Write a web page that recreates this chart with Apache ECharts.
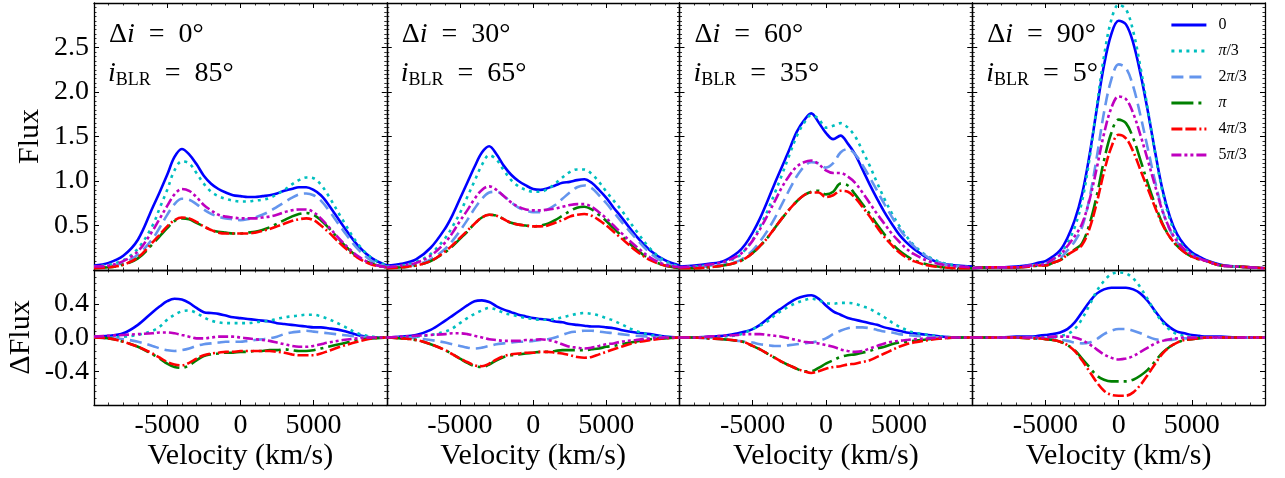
<!DOCTYPE html>
<html>
<head>
<meta charset="utf-8">
<script src="https://cdn.jsdelivr.net/npm/echarts@6/dist/echarts.min.js"></script>
<style>
html, body { margin: 0; padding: 0; background: #fff; }
#chart { width: 1285px; height: 478px; }
</style>
</head>
<body>
<div id="chart"></div>
<script>
// velocity grid (km/s), shared by every curve
var velocity = [-10000, -9000, -8000, -7000, -6000, -5500, -5000, -4500, -4000, -3500, -3000,
    -2500, -2000, -1500, -1000, -500, 0, 500, 1000, 1500, 2000, 2500, 3000, 3500, 4000,
    4500, 5000, 5500, 6000, 7000, 8000, 9000, 10000];

var phaseNames = ['0', 'π/3', '2π/3', 'π', '4π/3', '5π/3'];
var deltaI = [0, 30, 60, 90];
var iBLR = [85, 65, 35, 5];

// Flux, one row per phase (0, pi/3, 2pi/3, pi, 4pi/3, 5pi/3)
var fluxDi0 = [
    [0.05,0.08,0.16,0.34,0.70,0.88,1.07,1.27,1.36,1.30,1.19,1.06,0.97,0.91,0.87,0.84,0.83,0.82,0.82,0.83,0.84,0.86,0.89,0.91,0.93,0.93,0.90,0.84,0.74,0.50,0.28,0.13,0.05],
    [0.04,0.06,0.11,0.24,0.50,0.70,0.90,1.12,1.22,1.20,1.09,0.97,0.88,0.83,0.80,0.78,0.77,0.77,0.78,0.79,0.81,0.85,0.90,0.96,1.01,1.04,1.03,0.96,0.84,0.56,0.30,0.13,0.05],
    [0.03,0.04,0.08,0.17,0.35,0.48,0.62,0.74,0.80,0.79,0.74,0.68,0.63,0.60,0.58,0.57,0.56,0.57,0.59,0.62,0.66,0.71,0.76,0.81,0.85,0.86,0.84,0.78,0.68,0.45,0.24,0.10,0.04],
    [0.02,0.03,0.06,0.13,0.29,0.38,0.47,0.55,0.58,0.57,0.53,0.49,0.45,0.43,0.42,0.41,0.41,0.42,0.43,0.45,0.48,0.52,0.56,0.60,0.63,0.64,0.62,0.56,0.48,0.30,0.15,0.07,0.03],
    [0.02,0.03,0.06,0.14,0.31,0.40,0.49,0.56,0.59,0.58,0.54,0.49,0.45,0.42,0.41,0.41,0.41,0.41,0.42,0.44,0.46,0.49,0.52,0.55,0.57,0.58,0.56,0.50,0.43,0.27,0.14,0.06,0.03],
    [0.04,0.05,0.10,0.21,0.44,0.58,0.72,0.85,0.91,0.89,0.82,0.73,0.67,0.62,0.60,0.59,0.58,0.58,0.58,0.59,0.60,0.62,0.65,0.67,0.68,0.68,0.65,0.58,0.49,0.31,0.16,0.07,0.03]
];
var fluxDi30 = [
    [0.05,0.07,0.12,0.25,0.47,0.62,0.80,0.98,1.16,1.32,1.39,1.30,1.17,1.07,1.00,0.95,0.91,0.90,0.92,0.95,0.98,0.99,1.01,1.02,0.98,0.90,0.81,0.70,0.60,0.39,0.22,0.11,0.05],
    [0.04,0.05,0.09,0.18,0.36,0.49,0.64,0.82,1.00,1.18,1.29,1.24,1.12,1.01,0.94,0.90,0.88,0.88,0.91,0.97,1.04,1.10,1.13,1.13,1.08,0.99,0.88,0.78,0.68,0.45,0.24,0.10,0.04],
    [0.03,0.04,0.06,0.12,0.24,0.33,0.44,0.56,0.69,0.80,0.87,0.88,0.83,0.76,0.70,0.67,0.65,0.65,0.68,0.73,0.80,0.87,0.93,0.95,0.92,0.84,0.75,0.65,0.55,0.36,0.19,0.08,0.03],
    [0.02,0.03,0.05,0.10,0.20,0.27,0.35,0.43,0.52,0.59,0.62,0.61,0.57,0.53,0.51,0.50,0.49,0.50,0.52,0.56,0.61,0.66,0.70,0.71,0.68,0.62,0.55,0.47,0.39,0.24,0.12,0.05,0.02],
    [0.02,0.03,0.05,0.10,0.21,0.28,0.36,0.44,0.52,0.59,0.62,0.61,0.57,0.53,0.51,0.50,0.49,0.49,0.50,0.53,0.56,0.60,0.62,0.63,0.61,0.56,0.50,0.43,0.36,0.22,0.11,0.05,0.02],
    [0.03,0.05,0.08,0.16,0.31,0.42,0.55,0.67,0.80,0.90,0.94,0.90,0.83,0.76,0.71,0.68,0.67,0.67,0.68,0.69,0.71,0.73,0.74,0.74,0.71,0.65,0.58,0.50,0.42,0.27,0.14,0.06,0.03]
];
var fluxDi60 = [
    [0.04,0.05,0.07,0.10,0.20,0.29,0.42,0.58,0.77,0.97,1.16,1.35,1.55,1.68,1.76,1.66,1.54,1.47,1.51,1.42,1.30,1.13,0.96,0.80,0.65,0.52,0.40,0.31,0.24,0.13,0.07,0.05,0.04],
    [0.03,0.04,0.05,0.08,0.15,0.23,0.34,0.49,0.66,0.86,1.07,1.29,1.50,1.65,1.74,1.70,1.60,1.62,1.65,1.60,1.50,1.34,1.17,0.98,0.80,0.64,0.50,0.38,0.28,0.15,0.08,0.05,0.03],
    [0.02,0.03,0.04,0.06,0.10,0.15,0.22,0.32,0.44,0.58,0.74,0.90,1.05,1.16,1.21,1.20,1.15,1.20,1.32,1.36,1.30,1.18,1.04,0.89,0.74,0.60,0.47,0.36,0.27,0.14,0.07,0.04,0.02],
    [0.02,0.02,0.03,0.05,0.09,0.13,0.19,0.27,0.36,0.47,0.58,0.68,0.77,0.84,0.88,0.89,0.85,0.88,0.97,0.95,0.85,0.74,0.63,0.51,0.40,0.30,0.22,0.16,0.11,0.06,0.03,0.02,0.02],
    [0.02,0.02,0.03,0.05,0.09,0.13,0.19,0.27,0.36,0.47,0.58,0.68,0.77,0.84,0.87,0.87,0.82,0.84,0.89,0.88,0.81,0.71,0.60,0.48,0.37,0.28,0.20,0.14,0.10,0.05,0.03,0.02,0.02],
    [0.03,0.04,0.06,0.09,0.16,0.23,0.33,0.46,0.61,0.77,0.93,1.06,1.16,1.21,1.23,1.19,1.12,1.09,1.09,1.05,0.98,0.87,0.75,0.63,0.52,0.41,0.32,0.24,0.18,0.10,0.06,0.04,0.03]
];
var fluxDi90 = [
    [0.02,0.03,0.03,0.04,0.06,0.08,0.10,0.15,0.22,0.36,0.56,0.85,1.28,1.80,2.30,2.65,2.80,2.76,2.55,2.20,1.78,1.32,0.90,0.60,0.40,0.28,0.20,0.15,0.11,0.06,0.04,0.03,0.02],
    [0.02,0.03,0.03,0.03,0.05,0.06,0.07,0.12,0.18,0.30,0.48,0.77,1.24,1.83,2.40,2.81,2.98,2.93,2.68,2.27,1.80,1.31,0.88,0.57,0.37,0.25,0.18,0.13,0.10,0.05,0.04,0.03,0.02],
    [0.02,0.03,0.03,0.03,0.05,0.05,0.06,0.09,0.13,0.22,0.32,0.48,0.80,1.26,1.77,2.14,2.31,2.27,2.06,1.73,1.36,0.99,0.67,0.45,0.31,0.22,0.16,0.13,0.10,0.05,0.04,0.03,0.02],
    [0.02,0.03,0.03,0.03,0.04,0.05,0.05,0.08,0.11,0.17,0.23,0.30,0.51,0.83,1.23,1.54,1.69,1.65,1.48,1.23,0.97,0.73,0.52,0.37,0.27,0.20,0.15,0.12,0.10,0.05,0.04,0.03,0.02],
    [0.02,0.03,0.03,0.03,0.04,0.05,0.05,0.08,0.11,0.17,0.22,0.28,0.46,0.75,1.10,1.38,1.52,1.48,1.33,1.12,0.91,0.70,0.51,0.37,0.27,0.20,0.15,0.12,0.10,0.05,0.04,0.03,0.02],
    [0.02,0.03,0.03,0.03,0.05,0.06,0.07,0.12,0.17,0.27,0.38,0.52,0.78,1.14,1.53,1.82,1.95,1.92,1.76,1.51,1.23,0.94,0.66,0.46,0.32,0.23,0.17,0.13,0.10,0.05,0.04,0.03,0.02]
];

// Delta flux (flux minus the mean over phases)
var dFluxDi0 = [
    [0.01,0.02,0.05,0.15,0.30,0.37,0.43,0.46,0.45,0.41,0.35,0.30,0.29,0.28,0.26,0.24,0.23,0.22,0.21,0.20,0.19,0.17,0.16,0.15,0.14,0.13,0.12,0.12,0.11,0.08,0.03,0.00,0.00],
    [0,0,0.01,0.03,0.08,0.13,0.21,0.27,0.31,0.32,0.29,0.24,0.20,0.18,0.17,0.17,0.17,0.17,0.18,0.19,0.20,0.22,0.24,0.25,0.26,0.27,0.27,0.25,0.22,0.14,0.05,0.01,0],
    [0,-0.01,-0.02,-0.05,-0.10,-0.13,-0.15,-0.16,-0.15,-0.13,-0.10,-0.08,-0.07,-0.06,-0.05,-0.05,-0.05,-0.04,-0.03,-0.02,-0.01,0.01,0.04,0.06,0.07,0.08,0.07,0.06,0.05,0.03,0.01,0,0],
    [0,-0.01,-0.05,-0.11,-0.20,-0.25,-0.31,-0.35,-0.36,-0.33,-0.27,-0.22,-0.20,-0.19,-0.18,-0.18,-0.17,-0.17,-0.16,-0.16,-0.15,-0.15,-0.14,-0.15,-0.16,-0.16,-0.15,-0.13,-0.11,-0.07,-0.03,-0.01,0],
    [0,-0.01,-0.05,-0.11,-0.19,-0.24,-0.29,-0.32,-0.33,-0.30,-0.25,-0.21,-0.19,-0.18,-0.17,-0.17,-0.16,-0.16,-0.16,-0.16,-0.16,-0.17,-0.18,-0.20,-0.21,-0.21,-0.21,-0.19,-0.16,-0.10,-0.05,-0.01,0],
    [0.01,0.02,0.03,0.04,0.05,0.06,0.06,0.05,0.03,0.01,-0.01,-0.01,0,0.01,0.01,0.01,0,-0.01,-0.02,-0.03,-0.04,-0.06,-0.08,-0.10,-0.11,-0.11,-0.10,-0.08,-0.06,-0.03,-0.01,0,0]
];
var dFluxDi30 = [
    [0,0.01,0.03,0.09,0.20,0.26,0.32,0.38,0.43,0.44,0.42,0.37,0.33,0.30,0.27,0.25,0.23,0.22,0.21,0.19,0.18,0.16,0.15,0.14,0.13,0.13,0.12,0.11,0.09,0.06,0.04,0.01,0],
    [0,0,0.01,0.03,0.07,0.11,0.17,0.23,0.28,0.32,0.35,0.33,0.29,0.27,0.25,0.23,0.22,0.21,0.21,0.22,0.24,0.26,0.28,0.29,0.28,0.26,0.23,0.20,0.16,0.08,0.03,0.01,0],
    [0,0,-0.01,-0.03,-0.06,-0.08,-0.10,-0.12,-0.13,-0.12,-0.10,-0.08,-0.07,-0.06,-0.05,-0.05,-0.04,-0.03,-0.02,0,0.03,0.06,0.07,0.08,0.08,0.07,0.06,0.05,0.04,0.02,0.01,0,0],
    [0,-0.01,-0.03,-0.08,-0.15,-0.20,-0.25,-0.30,-0.34,-0.35,-0.32,-0.27,-0.23,-0.21,-0.20,-0.19,-0.18,-0.17,-0.17,-0.16,-0.15,-0.15,-0.15,-0.15,-0.14,-0.13,-0.11,-0.10,-0.08,-0.05,-0.02,-0.01,0],
    [0,-0.01,-0.03,-0.08,-0.15,-0.20,-0.25,-0.29,-0.33,-0.34,-0.31,-0.26,-0.22,-0.20,-0.19,-0.18,-0.18,-0.17,-0.17,-0.18,-0.19,-0.21,-0.23,-0.24,-0.23,-0.20,-0.17,-0.14,-0.11,-0.06,-0.03,-0.01,0],
    [0,0.01,0.02,0.03,0.04,0.05,0.05,0.04,0.02,0,-0.02,-0.03,-0.04,-0.04,-0.04,-0.03,-0.03,-0.02,-0.03,-0.05,-0.08,-0.11,-0.12,-0.13,-0.12,-0.10,-0.08,-0.07,-0.05,-0.03,-0.01,0,0]
];
var dFluxDi60 = [
    [0,0,0.01,0.02,0.05,0.07,0.10,0.15,0.22,0.29,0.35,0.41,0.46,0.49,0.50,0.46,0.38,0.31,0.27,0.23,0.21,0.19,0.17,0.15,0.12,0.10,0.08,0.06,0.05,0.03,0.01,0,0],
    [0,0,0,0.01,0.03,0.06,0.10,0.14,0.19,0.26,0.32,0.37,0.41,0.44,0.46,0.44,0.41,0.40,0.41,0.41,0.40,0.37,0.34,0.29,0.24,0.18,0.13,0.09,0.06,0.03,0.01,0,0],
    [0,0,-0.01,-0.02,-0.04,-0.05,-0.06,-0.08,-0.09,-0.10,-0.10,-0.09,-0.08,-0.07,-0.06,-0.04,-0.01,0.04,0.08,0.11,0.12,0.12,0.11,0.09,0.07,0.06,0.04,0.03,0.02,0.01,0,0,0],
    [0,0,-0.01,-0.02,-0.04,-0.06,-0.10,-0.14,-0.19,-0.24,-0.29,-0.33,-0.37,-0.40,-0.40,-0.36,-0.31,-0.27,-0.23,-0.21,-0.20,-0.18,-0.16,-0.13,-0.11,-0.08,-0.06,-0.05,-0.04,-0.02,-0.01,0,0],
    [0,0,-0.01,-0.02,-0.04,-0.06,-0.10,-0.14,-0.19,-0.24,-0.29,-0.33,-0.37,-0.40,-0.42,-0.40,-0.37,-0.35,-0.34,-0.32,-0.31,-0.29,-0.27,-0.23,-0.19,-0.15,-0.11,-0.08,-0.06,-0.03,-0.01,0,0],
    [0,0,0.01,0.02,0.03,0.04,0.04,0.04,0.03,0.02,0.01,-0.01,-0.03,-0.05,-0.06,-0.07,-0.09,-0.11,-0.14,-0.16,-0.17,-0.16,-0.13,-0.10,-0.07,-0.05,-0.04,-0.03,-0.02,-0.01,0,0,0]
];
var dFluxDi90 = [
    [0,0,0,0.01,0.01,0.02,0.03,0.04,0.06,0.10,0.18,0.30,0.42,0.52,0.57,0.59,0.59,0.59,0.57,0.52,0.43,0.31,0.20,0.12,0.07,0.05,0.03,0.02,0.01,0.01,0,0,0],
    [0,0,0,0,0,0,0,0.01,0.02,0.04,0.10,0.22,0.38,0.55,0.67,0.75,0.77,0.76,0.70,0.59,0.45,0.30,0.18,0.09,0.04,0.02,0.01,0,0,0,0,0,0],
    [0,0,0,0,0,-0.01,-0.01,-0.02,-0.03,-0.04,-0.06,-0.07,-0.06,-0.02,0.04,0.08,0.10,0.10,0.08,0.05,0.01,-0.02,-0.03,-0.03,-0.02,-0.01,-0.01,0,0,0,0,0,0],
    [0,0,0,0,-0.01,-0.01,-0.02,-0.03,-0.05,-0.09,-0.15,-0.25,-0.35,-0.45,-0.50,-0.52,-0.52,-0.52,-0.50,-0.45,-0.38,-0.28,-0.18,-0.11,-0.06,-0.03,-0.02,-0.01,0,0,0,0,0],
    [0,0,0,0,-0.01,-0.01,-0.02,-0.03,-0.05,-0.09,-0.16,-0.27,-0.40,-0.53,-0.63,-0.68,-0.69,-0.69,-0.65,-0.56,-0.44,-0.31,-0.19,-0.11,-0.06,-0.03,-0.02,-0.01,0,0,0,0,0],
    [0,0,0,0,0,0,0,0.01,0.01,0.01,0,-0.03,-0.08,-0.14,-0.20,-0.24,-0.26,-0.25,-0.22,-0.17,-0.12,-0.07,-0.04,-0.02,-0.01,0,0,0,0,0,0,0,0]
];

var fluxPanels = [fluxDi0, fluxDi30, fluxDi60, fluxDi90];
var dFluxPanels = [dFluxDi0, dFluxDi30, dFluxDi60, dFluxDi90];

var lineColors = ['#0000ff', '#00bfbf', '#6495ed', '#008000', '#ff0000', '#bf00bf'];
var lineDashes = ['solid', [3, 4.5], [12, 6], [22, 5, 3, 5], [11, 3, 11, 3, 2, 3], [10, 3, 3, 3, 3, 3]];

var serif = 'Liberation Serif';
var left0 = 94, panelW = 292.75;

var chart = echarts.init(document.getElementById('chart'));

var grids = [], xAxes = [], yAxes = [], series = [], graphics = [];

function tickStyle(split) {
    return {
        axisLine: { show: true, onZero: false, lineStyle: { color: '#000', width: 1.3 } },
        axisTick: { show: true, inside: true, length: 5, lineStyle: { color: '#000', width: 1 } },
        minorTick: { show: true, splitNumber: split, length: 2.5, lineStyle: { color: '#000', width: 0.8 } },
        splitLine: { show: false },
        minorSplitLine: { show: false }
    };
}

var nameStyle = { fontFamily: serif, fontSize: 30, color: '#000', fontWeight: 'normal' };

for (var row = 0; row < 2; row++) {
    for (var c = 0; c < 4; c++) {
        var p = row * 4 + c;
        grids.push({
            left: left0 + c * panelW,
            top: row === 0 ? 3 : 270,
            width: panelW,
            height: row === 0 ? 267 : 135
        });
        var bottomRow = row === 1;
        ['bottom', 'top'].forEach(function (pos) {
            var ax = Object.assign({
                type: 'value', gridIndex: p, position: pos,
                min: -10000, max: 10000, interval: 5000,
                axisLabel: {
                    show: bottomRow && pos === 'bottom',
                    showMinLabel: false, showMaxLabel: false,
                    formatter: function (v) { return String(v); },
                    fontFamily: serif, fontSize: 28, color: '#000', margin: 7
                }
            }, tickStyle(5));
            if (bottomRow && pos === 'bottom') {
                ax.name = 'Velocity (km/s)';
                ax.nameLocation = 'middle';
                ax.nameGap = 36;
                ax.nameTextStyle = nameStyle;
            }
            xAxes.push(ax);
        });
        ['left', 'right'].forEach(function (pos) {
            var ay = Object.assign({
                type: 'value', gridIndex: p, position: pos,
                min: row === 0 ? 0 : -0.8,
                max: row === 0 ? 3 : 0.8,
                interval: row === 0 ? 0.5 : 0.4,
                axisLabel: {
                    show: c === 0 && pos === 'left',
                    showMinLabel: false, showMaxLabel: false,
                    formatter: function (v) { return v.toFixed(1); },
                    fontFamily: serif, fontSize: 28, color: '#000', margin: 5
                }
            }, tickStyle(row === 0 ? 10 : 5));
            if (c === 0 && pos === 'left') {
                ay.name = row === 0 ? 'Flux' : 'ΔFlux';
                ay.nameLocation = 'middle';
                ay.nameRotate = 90;
                ay.nameGap = row === 0 ? 49 : 58;
                ay.nameTextStyle = nameStyle;
            }
            yAxes.push(ay);
        });

        var panelData = row === 0 ? fluxPanels[c] : dFluxPanels[c];
        for (var k = 0; k < phaseNames.length; k++) {
            series.push({
                type: 'line',
                name: phaseNames[k],
                xAxisIndex: 2 * p,
                yAxisIndex: 2 * p,
                data: velocity.map(function (v, i) { return [v, panelData[k][i]]; }),
                symbol: 'none',
                showSymbol: false,
                smooth: 0.35,
                clip: true,
                lineStyle: { color: lineColors[k], width: 2.6, type: lineDashes[k], cap: 'butt' },
                itemStyle: { color: lineColors[k] },
                emphasis: { disabled: true }
            });
        }
    }
}

// annotation text: rich tokens carry a full CSS font string
var richText = {
    n: { font: "28px 'Liberation Serif'", fontFamily: serif, fontSize: 28, lineHeight: 30, fill: '#000' },
    it: { font: "italic 28px 'Liberation Serif'", fontFamily: serif, fontSize: 28, fontStyle: 'italic', lineHeight: 30, fill: '#000' },
    sub: { font: "18px 'Liberation Serif'", fontFamily: serif, fontSize: 18, lineHeight: 10, verticalAlign: 'bottom', fill: '#000' }
};
for (var c2 = 0; c2 < 4; c2++) {
    var x0 = left0 + c2 * panelW;
    graphics.push({
        type: 'text', x: x0 + 15, y: 35, z: 100,
        style: {
            text: '{n|Δ}{it|i}{n|\u2002=\u2002' + deltaI[c2] + '°}',
            font: "28px 'Liberation Serif'",
            rich: richText, align: 'left', verticalAlign: 'middle'
        }
    });
    graphics.push({
        type: 'text', x: x0 + 14, y: 74, z: 100,
        style: {
            text: '{it|i}{sub|BLR}{n|\u2002=\u2002' + iBLR[c2] + '°}',
            font: "28px 'Liberation Serif'",
            rich: richText, align: 'left', verticalAlign: 'middle'
        }
    });
}

function legendText(name) {
    return name.split('π').map(function (s) { return s ? '{n|' + s + '}' : ''; }).join('{it|π}');
}

chart.setOption({
    animation: false,
    backgroundColor: '#fff',
    textStyle: { fontFamily: serif },
    grid: grids,
    xAxis: xAxes,
    yAxis: yAxes,
    series: series,
    graphic: graphics,
    legend: {
        data: phaseNames,
        orient: 'vertical',
        left: 1170,
        top: 17,
        padding: 0,
        itemWidth: 35,
        itemHeight: 14,
        itemGap: 10,
        selectedMode: false,
        itemStyle: { opacity: 0 },
        lineStyle: { width: 2.8 },
        formatter: legendText,
        textStyle: {
            color: '#000',
            fontFamily: serif,
            padding: [0, 0, 0, 7],
            rich: {
                n: { fontFamily: serif, fontSize: 16, color: '#000' },
                it: { fontFamily: serif, fontSize: 16, fontStyle: 'italic', color: '#000' }
            }
        }
    }
});
</script>
</body>
</html>
